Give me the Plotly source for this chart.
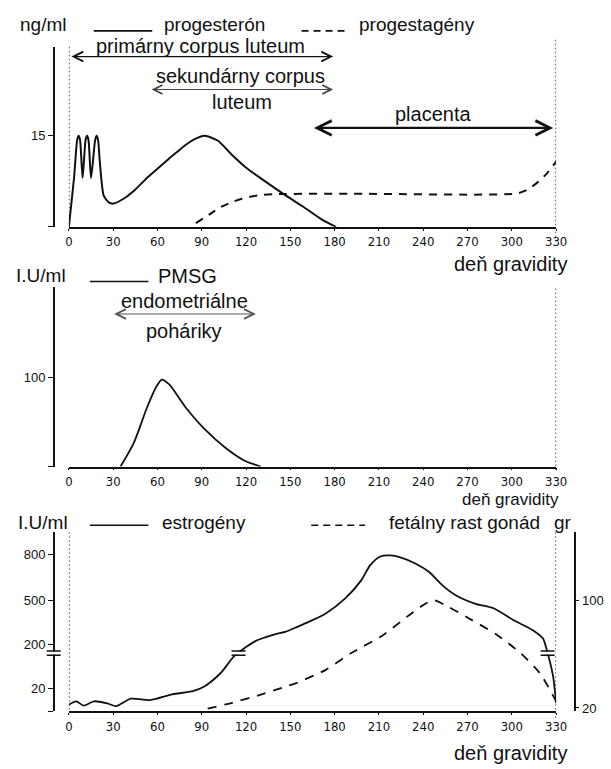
import numpy as np
import plotly.graph_objects as go

# ---------------- data ----------------
DAY_TICKS = list(range(0, 331, 30))

# top panel (ng/ml)
PROG_DAYS = [0, 3.5, 5.6, 6.6, 7.6, 9.3, 11.3, 12.3, 13.3, 15, 17.8, 18.8, 19.8, 21, 23.6, 27, 30.2,
             37, 44.5, 52, 60, 67, 73, 79, 84, 92, 101, 110, 121, 132, 147, 159, 172, 181]
PROG_VALS = [0, 8, 14.2, 14.9, 14.2, 8, 14.2, 14.9, 14.2, 8, 14.2, 14.9, 14.2, 10.5, 5.1, 4.0, 3.8,
             4.6, 6.0, 7.8, 9.5, 11.0, 12.2, 13.4, 14.2, 14.9, 14.1, 11.9, 9.5, 7.6, 5.1, 3.25, 1.1, 0]
PGEN_DAYS = [86, 95, 103, 110, 117, 128, 139, 200, 303, 310, 317, 324, 330]
PGEN_VALS = [0.6, 2.0, 3.25, 4.0, 4.6, 5.15, 5.35, 5.4, 5.45, 6.0, 7.2, 8.8, 10.7]

# middle panel (PMSG, I.U/ml)
PMSG_DAYS = [35, 44, 53, 59.4, 63, 68, 79, 92.5, 106, 119, 130]
PMSG_VALS = [0, 26.5, 66.5, 90, 97.5, 92, 66.5, 41, 21, 6.5, 0]

# bottom panel (estrogens, I.U/ml, broken axis) and fetal gonad growth (g, right axis)
EST_DAYS = [0, 5, 10, 17, 26, 32, 42, 55, 70, 84, 92, 103, 112, 126, 139, 147, 154, 160, 174,
            187, 198, 204, 211, 218, 224, 235, 244, 253, 262, 275, 288, 301, 314, 321, 324, 328, 330]
EST_VALS = [5.7, 8.6, 4.9, 8.6, 6.9, 4.5, 10.9, 9.7, 14.6, 17.4, 28, 84, 153, 224, 269, 289, 318,
            344, 411, 510, 631, 730, 789, 796, 785, 741, 686, 598, 533, 477, 444, 367, 300, 244,
            172, 68, 7]
GON_DAYS = [94, 110, 130, 147, 154, 174, 191, 213, 229, 240, 247, 257, 273, 290, 306, 319, 330]
GON_VALS = [19.5, 23.7, 29.9, 36, 38.5, 48.3, 60.6, 74.2, 87.7, 96.3, 100, 95, 85.2, 74.2, 60.6,
            45.8, 25]

# broken left axis of bottom panel: value -> display position
SCALE_VALS = [0, 20, 200, 500, 800]
SCALE_POS = [0, 23.3, 66.7, 111.7, 157.3]
BREAK_POS = 58.5

# ---------------- helpers ----------------
W, H = 611, 769
def X(p):
    return p / W
def Y(p):
    return 1 - p / H

def est_display(v):
    return np.interp(v, SCALE_VALS, SCALE_POS)

FONT = "Liberation Sans, Arial, sans-serif"
NARROW = "Liberation Sans Narrow, Arial Narrow, DejaVu Sans Condensed, sans-serif"
INK = "#111111"

fig = go.Figure()

fig.add_trace(go.Scatter(x=PROG_DAYS, y=PROG_VALS, mode="lines", xaxis="x", yaxis="y",
                         line=dict(color=INK, width=2, shape="spline", smoothing=0.6),
                         hoverinfo="skip"))
fig.add_trace(go.Scatter(x=PGEN_DAYS, y=PGEN_VALS, mode="lines", xaxis="x", yaxis="y",
                         line=dict(color=INK, width=2, dash="8px,7px", shape="spline", smoothing=0.7),
                         hoverinfo="skip"))
fig.add_trace(go.Scatter(x=PMSG_DAYS, y=PMSG_VALS, mode="lines", xaxis="x2", yaxis="y2",
                         line=dict(color=INK, width=1.8, shape="spline", smoothing=0.7),
                         hoverinfo="skip"))
est_d = est_display(EST_VALS)
fig.add_trace(go.Scatter(x=EST_DAYS, y=est_d, mode="lines", xaxis="x3", yaxis="y3",
                         line=dict(color=INK, width=1.8, shape="spline", smoothing=0.7),
                         hoverinfo="skip"))
fig.add_trace(go.Scatter(x=GON_DAYS, y=GON_VALS, mode="lines", xaxis="x3", yaxis="y4",
                         line=dict(color=INK, width=1.8, dash="9px,8px", shape="spline", smoothing=0.7),
                         hoverinfo="skip"))

xcommon = dict(range=[0, 330], domain=[X(66.5), X(566)], showline=True, linecolor=INK,
               linewidth=1.5, ticks="outside", ticklen=2, tickcolor=INK, tickvals=DAY_TICKS,
               tickfont=dict(family=NARROW, size=13, color=INK), showgrid=False, zeroline=False,
               fixedrange=True)
ycommon = dict(anchor="free", position=X(51), showline=True, linecolor=INK, linewidth=1.5,
               ticks="outside", ticklen=5, tickcolor=INK, showgrid=False, zeroline=False,
               tickfont=dict(family=FONT, size=13, color=INK), fixedrange=True)

tick3 = [0, 20, 200, 500, 800]
fig.update_layout(
    width=W, height=H, margin=dict(l=0, r=0, t=0, b=0), autosize=False,
    paper_bgcolor="white", plot_bgcolor="white", showlegend=False,
    xaxis=dict(anchor="y", **xcommon),
    xaxis2=dict(anchor="y2", **xcommon),
    xaxis3=dict(anchor="y3", **xcommon),
    yaxis=dict(domain=[Y(228), Y(47)], range=[0, 29.5], tickvals=[0, 15], ticktext=["", "15"], **ycommon),
    yaxis2=dict(domain=[Y(469), Y(288)], range=[0, 201.8], tickvals=[0, 100], ticktext=["", "100"], **ycommon),
    yaxis3=dict(domain=[Y(715), Y(535)], range=[0, 180], tickvals=list(est_display(tick3)),
                ticktext=["", "20", "200", "500", "800"], **ycommon),
    yaxis4=dict(overlaying="y3", anchor="free", position=X(585), side="right", range=[17.56, 150.4],
                tickvals=[20, 100], showline=True, linecolor=INK, linewidth=1.5, ticks="outside",
                ticklen=4, tickcolor=INK, showgrid=False, zeroline=False,
                tickfont=dict(family=FONT, size=13, color=INK), fixedrange=True),
)

# ---------------- text ----------------
texts = [
    ("ng/ml", 40, 25, "center", 19),
    ("progesterón", 162, 25, "left", 19),
    ("progestagény", 362, 25, "left", 19),
    ("primárny corpus luteum", 201.5, 46, "center", 20),
    ("sekundárny corpus", 242.5, 76, "center", 20),
    ("luteum", 243.5, 103, "center", 20),
    ("placenta", 440, 115, "center", 20),
    ("deň gravidity", 519, 265, "center", 20),
    ("I.U/ml", 37.5, 277, "center", 19),
    ("PMSG", 188.5, 277, "center", 20),
    ("endometriálne", 185, 303, "center", 20),
    ("poháriky", 185, 333, "center", 20),
    ("deň gravidity", 519, 502.5, "center", 17),
    ("I.U/ml", 40, 525, "center", 19),
    ("estrogény", 205, 525, "center", 19),
    ("fetálny rast gonád", 472, 525, "center", 19),
    ("gr", 573.5, 525, "center", 19),
    ("deň gravidity", 519, 757, "center", 20),
]
for t, x, y, anc, fs in texts:
    fig.add_annotation(text=t, x=X(x), y=Y(y), xref="paper", yref="paper", showarrow=False,
                       xanchor=anc, yanchor="middle", font=dict(family=FONT, size=fs, color=INK))

# arrows (two-headed)
arrows = [
    ("x", "y", 0.7, 179, 27.9, 1.2, INK, 5, 1.6),
    ("x", "y", 55, 179, 22.5, 1.1, "#444444", 5, 1.6),
    ("x", "y", 165, 328, 16.2, 2.2, INK, 5, 1.3),
    ("x2", "y2", 29.6, 126.7, 171, 1.2, "#555555", 5, 1.6),
]
for xr, yr, x0, x1, yv, w, col, head, size in arrows:
    fig.add_annotation(x=x1, y=yv, ax=x0, ay=yv, xref=xr, yref=yr, axref=xr, ayref=yr, text="",
                       showarrow=True, arrowside="end+start", arrowhead=head, startarrowhead=head,
                       arrowsize=size, startarrowsize=size, arrowwidth=w, arrowcolor=col,
                       standoff=0, startstandoff=0)

shapes = []
# legend sample lines
for x0, x1, y, dash in [(92, 152, 31, "solid"), (305, 350, 31, "7px,5px"),
                        (88, 148, 283, "solid"), (88, 148, 528, "solid"), (315, 370, 528, "7px,5px")]:
    shapes.append(dict(type="line", xref="paper", yref="paper", x0=X(x0), x1=X(x1), y0=Y(y), y1=Y(y),
                       line=dict(color=INK, width=1.6, dash=dash)))
# dotted reference lines at day 0 and day 330
for xr, xv, ya, yb in [("x", 0, 47, 228), ("x", 330, 40, 245), ("x2", 330, 290, 475),
                       ("x3", 0, 535, 715), ("x3", 330, 535, 722)]:
    shapes.append(dict(type="line", xref=xr, yref="paper", x0=xv, x1=xv, y0=Y(ya), y1=Y(yb),
                       line=dict(color="#222222", width=1.5, dash="1.5px,2.5px")))

# break marks on the estrogen axis and curve
ed = np.asarray(est_d)
i = int(np.argmax(ed >= BREAK_POS))
rise_day = EST_DAYS[i - 1] + (BREAK_POS - ed[i - 1]) / (ed[i] - ed[i - 1]) * (EST_DAYS[i] - EST_DAYS[i - 1])
j = int(len(ed) - 1 - np.argmax(ed[::-1] >= BREAK_POS))
fall_day = EST_DAYS[j] + (ed[j] - BREAK_POS) / (ed[j] - ed[j + 1]) * (EST_DAYS[j + 1] - EST_DAYS[j])

def break_mark(xref, xanchor):
    out = [dict(type="rect", xref=xref, yref="y3", xsizemode="pixel", ysizemode="pixel",
                xanchor=xanchor, yanchor=BREAK_POS, x0=-8, x1=8, y0=-1.5, y1=1.5,
                fillcolor="white", line=dict(width=0), layer="above")]
    for dy in (-2.2, 2.2):
        out.append(dict(type="line", xref=xref, yref="y3", xsizemode="pixel", ysizemode="pixel",
                        xanchor=xanchor, yanchor=BREAK_POS, x0=-7, x1=7, y0=dy, y1=dy,
                        line=dict(color=INK, width=1.5), layer="above"))
    return out

shapes += break_mark("paper", X(51))
shapes += break_mark("x3", rise_day)
shapes += break_mark("x3", fall_day)

fig.update_layout(shapes=shapes)
fig.write_html("out.html")
